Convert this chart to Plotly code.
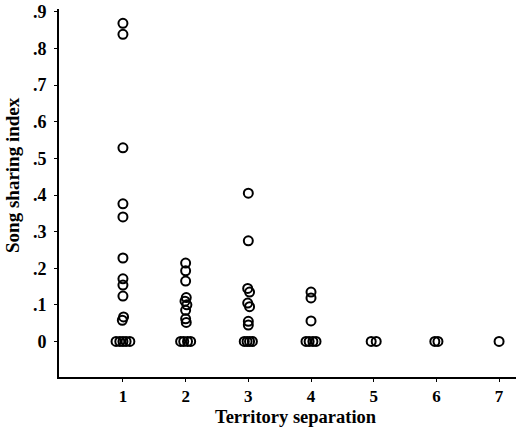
import plotly.graph_objects as go

# Territory separation (x, with slight horizontal spread as drawn) and song sharing index (y)
sep_1 = [1, 1, 1, 1, 1, 1, 1, 1, 1, 1.01, 0.99, 0.89, 0.95, 1.0, 1.05, 1.11]
ssi_1 = [0.869, 0.839, 0.529, 0.376, 0.340, 0.228, 0.171, 0.154, 0.124, 0.067, 0.058, 0, 0, 0, 0, 0]

sep_2 = [2, 2, 2, 2.01, 1.99, 2.02, 2, 2, 2.01, 1.92, 1.97, 2.03, 2.08]
ssi_2 = [0.214, 0.193, 0.165, 0.120, 0.110, 0.100, 0.085, 0.062, 0.052, 0, 0, 0, 0]

sep_3 = [3, 3, 2.99, 3.02, 2.99, 3.02, 3, 3, 2.935, 2.98, 3.02, 3.065]
ssi_3 = [0.405, 0.275, 0.145, 0.135, 0.105, 0.095, 0.055, 0.045, 0, 0, 0, 0]

sep_4 = [4, 4, 4, 3.92, 3.97, 4.03, 4.08]
ssi_4 = [0.135, 0.119, 0.056, 0, 0, 0, 0]

sep_5 = [4.96, 5.04]
ssi_5 = [0, 0]

sep_6 = [5.975, 6.025]
ssi_6 = [0, 0]

sep_7 = [7.0]
ssi_7 = [0]

x_ticks = [1, 2, 3, 4, 5, 6, 7]
y_tickvals = [0, 0.1, 0.2, 0.3, 0.4, 0.5, 0.6, 0.7, 0.8, 0.9]
y_ticktext = ["0", ".1", ".2", ".3", ".4", ".5", ".6", ".7", ".8", ".9"]

xs = sep_1 + sep_2 + sep_3 + sep_4 + sep_5 + sep_6 + sep_7
ys = ssi_1 + ssi_2 + ssi_3 + ssi_4 + ssi_5 + ssi_6 + ssi_7

FONT = "Liberation Serif"

fig = go.Figure()
fig.add_trace(go.Scatter(
    x=xs, y=ys, mode="markers",
    marker=dict(symbol="circle-open", size=9, color="black", line=dict(width=2, color="black")),
    showlegend=False, hoverinfo="skip",
))

fig.update_layout(
    width=516, height=434,
    margin=dict(l=59, r=0, t=9, b=57),
    paper_bgcolor="white", plot_bgcolor="white",
    font=dict(family=FONT, color="black"),
    xaxis=dict(
        range=[-0.02, 7.27], tickvals=x_ticks, ticktext=[str(v) for v in x_ticks],
        showline=True, linecolor="black", linewidth=2, mirror=False,
        ticks="outside", ticklen=3, tickwidth=1, tickcolor="black",
        showgrid=False, zeroline=False,
        tickfont=dict(family=FONT, size=17, weight="bold", color="black"),
    ),
    yaxis=dict(
        range=[-0.097, 0.908], tickvals=y_tickvals, ticktext=y_ticktext,
        showline=True, linecolor="black", linewidth=2, mirror=False,
        ticks="outside", ticklen=3, tickwidth=1, tickcolor="black",
        ticklabelstandoff=4,
        showgrid=False, zeroline=False,
        tickfont=dict(family=FONT, size=18, weight="bold", color="black"),
    ),
    annotations=[
        dict(text="Territory separation", xref="paper", yref="paper",
             x=0.519, y=-0.11, xanchor="center", yanchor="middle", showarrow=False,
             font=dict(family=FONT, size=18.5, weight="bold", color="black")),
        dict(text="Song sharing index", xref="paper", yref="paper",
             x=-0.1007, y=0.549, xanchor="center", yanchor="middle", showarrow=False,
             textangle=-90,
             font=dict(family=FONT, size=19, weight="bold", color="black")),
    ],
)

fig.write_html("out.html", config={"displayModeBar": False},
               post_script="document.body.style.margin='0';")
